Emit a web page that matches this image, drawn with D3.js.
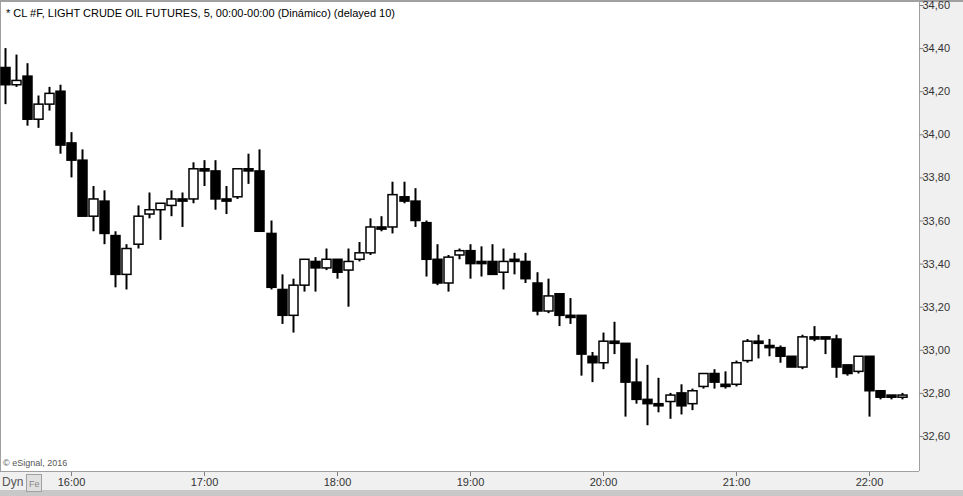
<!DOCTYPE html>
<html>
<head>
<meta charset="utf-8">
<script src="https://cdn.jsdelivr.net/npm/d3@7"></script>
<style>
body { margin: 0; background: #f0f0f0; }
svg { display: block; font-family: "Liberation Sans", Arial, sans-serif; }
</style>
</head>
<body>
<div id="chart"></div>
<script>
var startTime = '15:30';
var opens  = [34.31,34.23,34.27,34.07,34.14,34.20,33.96,33.88,33.62,33.69,33.53,33.35,33.49,33.63,33.65,33.67,33.70,33.70,33.84,33.83,33.70,33.71,33.84,33.83,33.54,33.28,33.16,33.30,33.41,33.38,33.42,33.37,33.42,33.45,33.57,33.57,33.71,33.69,33.59,33.42,33.31,33.44,33.46,33.41,33.41,33.36,33.42,33.41,33.31,33.18,33.26,33.16,33.16,32.97,32.94,33.04,33.03,32.85,32.77,32.75,32.76,32.80,32.75,32.83,32.89,32.84,32.84,32.95,33.04,33.02,33.01,32.97,32.92,33.06,33.06,33.05,32.93,32.90,32.97,32.81,32.79,32.78];
var highs  = [34.40,34.37,34.33,34.18,34.22,34.23,34.01,33.93,33.76,33.74,33.55,33.49,33.67,33.73,33.68,33.74,33.73,33.87,33.88,33.88,33.76,33.84,33.91,33.93,33.60,33.35,33.33,33.42,33.43,33.47,33.42,33.47,33.50,33.61,33.62,33.78,33.78,33.75,33.60,33.49,33.44,33.47,33.49,33.48,33.49,33.47,33.45,33.45,33.36,33.33,33.26,33.24,33.16,32.99,33.08,33.13,33.03,32.96,32.93,32.87,32.80,32.84,32.82,32.89,32.91,32.90,32.95,33.05,33.07,33.05,33.02,32.97,33.07,33.11,33.06,33.07,32.93,32.97,32.97,32.81,32.79,32.80];
var lows   = [34.14,34.22,34.04,34.03,34.11,33.91,33.80,33.62,33.55,33.49,33.29,33.28,33.47,33.61,33.51,33.62,33.57,33.68,33.76,33.65,33.63,33.70,33.77,33.55,33.28,33.12,33.08,33.27,33.27,33.37,33.33,33.20,33.41,33.44,33.55,33.54,33.68,33.57,33.34,33.30,33.27,33.42,33.33,33.34,33.35,33.28,33.35,33.31,33.16,33.17,33.11,33.12,32.88,32.85,32.91,32.98,32.69,32.75,32.65,32.71,32.68,32.70,32.72,32.82,32.82,32.82,32.83,32.94,32.96,32.97,32.94,32.92,32.91,33.04,32.98,32.87,32.88,32.89,32.69,32.77,32.77,32.77];
var closes = [34.23,34.25,34.07,34.14,34.19,33.95,33.88,33.62,33.70,33.54,33.35,33.47,33.62,33.65,33.68,33.70,33.69,33.84,33.83,33.70,33.69,33.84,33.83,33.55,33.29,33.16,33.30,33.42,33.38,33.42,33.36,33.41,33.45,33.57,33.56,33.72,33.69,33.60,33.42,33.31,33.43,33.46,33.40,33.40,33.35,33.41,33.41,33.33,33.18,33.25,33.16,33.15,32.98,32.94,33.04,33.03,32.85,32.77,32.75,32.74,32.79,32.74,32.81,32.89,32.85,32.83,32.94,33.04,33.03,33.01,32.97,32.92,33.06,33.05,33.05,32.92,32.89,32.97,32.81,32.78,32.78,32.79];
var priceTicks = [32.6,32.8,33.0,33.2,33.4,33.6,33.8,34.0,34.2,34.4,34.6];
var timeTicks = ['16:00','17:00','18:00','19:00','20:00','21:00','22:00'];
var title = '* CL #F, LIGHT CRUDE OIL FUTURES, 5, 00:00-00:00 (Dinámico) (delayed 10)';

var w = 963, h = 496;
var plotRight = 919, plotBottom = 471;
var parse = d3.timeParse('%H:%M');
var t0 = parse(startTime);
var data = opens.map(function(o, i){
    return {t: d3.timeMinute.offset(t0, 5 * i), o: o, h: highs[i], l: lows[i], c: closes[i]};
});

var svg = d3.select('#chart').append('svg').attr('width', w).attr('height', h);
svg.append('rect').attr('width', w).attr('height', h).attr('fill', '#f0f0f0');
svg.append('rect').attr('x', 1).attr('y', 2).attr('width', plotRight - 1).attr('height', plotBottom - 2).attr('fill', '#fff');
// frame lines
svg.append('line').attr('x1', 0).attr('x2', w).attr('y1', 1).attr('y2', 1).attr('stroke', '#a0a0a0').attr('stroke-width', 2);
svg.append('line').attr('x1', 0.5).attr('x2', 0.5).attr('y1', 0).attr('y2', plotBottom).attr('stroke', '#a0a0a0');
svg.append('line').attr('x1', plotRight + 0.5).attr('x2', plotRight + 0.5).attr('y1', 0).attr('y2', plotBottom).attr('stroke', '#a0a0a0');
svg.append('line').attr('x1', 0).attr('x2', plotRight).attr('y1', plotBottom + 0.5).attr('y2', plotBottom + 0.5).attr('stroke', '#a0a0a0');
svg.append('line').attr('x1', 0).attr('x2', w).attr('y1', h - 3).attr('y2', h - 3).attr('stroke', '#c8c8c8').attr('stroke-width', 6);

var xScale = d3.scaleTime().domain([parse('16:00'), parse('22:00')]).range([71, 869]);
var yScale = d3.scaleLinear().domain([32.6, 34.6]).range([436, 5]);
var bw = 9;

var candles = svg.append('g').selectAll('g').data(data).enter().append('g');
candles.append('line')
    .attr('x1', function(d){return Math.round(xScale(d.t)) + 0.5;})
    .attr('x2', function(d){return Math.round(xScale(d.t)) + 0.5;})
    .attr('y1', function(d){return yScale(d.h);})
    .attr('y2', function(d){return yScale(d.l);})
    .attr('stroke', '#000').attr('stroke-width', 2);
candles.append('rect')
    .attr('x', function(d){return Math.round(xScale(d.t)) + 0.5 - bw / 2;})
    .attr('y', function(d){return yScale(Math.max(d.o, d.c));})
    .attr('width', bw)
    .attr('height', function(d){return Math.max(2, Math.abs(yScale(d.o) - yScale(d.c)));})
    .attr('fill', function(d){return d.c >= d.o ? '#fff' : '#000';})
    .attr('stroke', '#000').attr('stroke-width', 1.5);

// price axis on the right
var yAxis = d3.axisRight(yScale).tickValues(priceTicks).tickSize(4)
    .tickFormat(function(v){return d3.format('.2f')(v).replace('.', ',');});
var ya = svg.append('g').attr('transform', 'translate(' + (plotRight + 0.5) + ',0)').call(yAxis);
ya.select('.domain').remove();
ya.selectAll('line').attr('stroke', '#808080');
ya.selectAll('text').attr('fill', '#333').attr('font-size', 11).attr('x', 3);

// time axis
var xAxis = d3.axisBottom(xScale).tickValues(timeTicks.map(parse)).tickSize(4).tickFormat(d3.timeFormat('%H:%M'));
var xa = svg.append('g').attr('transform', 'translate(0,' + (plotBottom + 1) + ')').call(xAxis);
xa.select('.domain').remove();
xa.selectAll('line').attr('stroke', '#808080');
xa.selectAll('text').attr('fill', '#333').attr('font-size', 11).attr('y', 4).attr('dy', '0.9em');

svg.append('text').attr('x', 6).attr('y', 17).attr('font-size', 11).attr('fill', '#000').text(title);
svg.append('text').attr('x', 3).attr('y', 466).attr('font-size', 9).attr('fill', '#555').text('© eSignal, 2016');
svg.append('text').attr('x', 2).attr('y', 486).attr('font-size', 12).attr('fill', '#555').text('Dyn');
svg.append('rect').attr('x', 26.5).attr('y', 474.5).attr('width', 15).attr('height', 17).attr('fill', '#e0e0e0').attr('stroke', '#a0a0a0');
svg.append('text').attr('x', 29).attr('y', 487).attr('font-size', 9).attr('fill', '#888').text('Fe');
</script>
</body>
</html>
